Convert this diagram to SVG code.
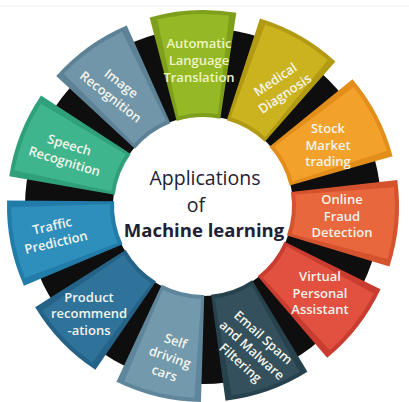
<svg xmlns="http://www.w3.org/2000/svg" xmlns:xlink="http://www.w3.org/1999/xlink" width="409" height="402" viewBox="0 0 409 402">
<style>
.lbl{font-family:"Open Sans","Noto Sans","Liberation Sans",sans-serif;font-size:13px;font-weight:600;fill:#f4f4ea;text-anchor:middle}
.ctr{font-family:"Open Sans","Noto Sans","Liberation Sans",sans-serif;fill:#1e2133;text-anchor:middle}
</style>
<defs>
<path id="blk" d="M -43.42 -191.13 A 196 196 0 0 1 43.42 -191.13 L 21.83 -86.28 A 89 89 0 0 0 -21.83 -86.28 Z"/>
<path id="face" d="M -35.98 -188.60 A 192 192 0 0 1 35.98 -188.60 L 19.81 -90.87 A 93 93 0 0 0 -19.81 -90.87 Z"/>
</defs>
<rect width="409" height="402" fill="#ffffff"/>
<line x1="0" y1="6" x2="409" y2="6" stroke="#eeeeee" stroke-width="1"/>
<g id="connectors">
<path d="M 203 28 A 178 178 0 1 1 202.99 28 Z M 203 116 A 90 90 0 1 0 203.01 116 Z" fill="#0e0e0e" fill-rule="evenodd"/>
</g>
<g id="node-auto">
<use xlink:href="#blk" transform="translate(203 206) rotate(-3)" fill="#7f9f1c"/>
<use xlink:href="#face" transform="translate(203 206) rotate(-3)" fill="#95b925"/>
<text class="lbl" style="fill:#eef4c4"><tspan x="199" y="48">Automatic</tspan><tspan x="199" y="65">Language</tspan><tspan x="199" y="82">Translation</tspan></text>
</g>
<g id="node-medical">
<use xlink:href="#blk" transform="translate(203 206) rotate(29.7)" fill="#b29b12"/>
<use xlink:href="#face" transform="translate(203 206) rotate(29.7)" fill="#cbb320"/>
<text class="lbl" transform="translate(280 86.5) rotate(-34)"><tspan x="0" y="-3.8">Medical</tspan><tspan x="0" y="13.2">Diagnosis</tspan></text>
</g>
<g id="node-stock">
<use xlink:href="#blk" transform="translate(203 206) rotate(62.5)" fill="#e38d1a"/>
<use xlink:href="#face" transform="translate(203 206) rotate(62.5)" fill="#f2a22a"/>
<text class="lbl"><tspan x="328" y="133">Stock</tspan><tspan x="328" y="149.5">Market</tspan><tspan x="328" y="166">trading</tspan></text>
</g>
<g id="node-online">
<use xlink:href="#blk" transform="translate(203 206) rotate(95.2)" fill="#d4532e"/>
<use xlink:href="#face" transform="translate(203 206) rotate(95.2)" fill="#e9673d"/>
<text class="lbl"><tspan x="342" y="204">Online</tspan><tspan x="342" y="221">Fraud</tspan><tspan x="342" y="237">Detection</tspan></text>
</g>
<g id="node-virtual">
<use xlink:href="#blk" transform="translate(203 206) rotate(127.9)" fill="#c93c30"/>
<use xlink:href="#face" transform="translate(203 206) rotate(127.9)" fill="#e2503f"/>
<text class="lbl"><tspan x="320" y="281">Virtual</tspan><tspan x="320" y="298">Personal</tspan><tspan x="320" y="314">Assistant</tspan></text>
</g>
<g id="node-email">
<use xlink:href="#blk" transform="translate(203 206) rotate(160.6)" fill="#28424d"/>
<use xlink:href="#face" transform="translate(203 206) rotate(160.6)" fill="#33505c"/>
<text class="lbl" transform="translate(252 350) rotate(42)"><tspan x="0" y="-12.3">Email Spam</tspan><tspan x="0" y="4.7">and Malware</tspan><tspan x="0" y="21.7">Filtering</tspan></text>
</g>
<g id="node-self">
<use xlink:href="#blk" transform="translate(203 206) rotate(193.4)" fill="#5f869b"/>
<use xlink:href="#face" transform="translate(203 206) rotate(193.4)" fill="#7399ad"/>
<text class="lbl" transform="translate(170 357) rotate(19)"><tspan x="0" y="-12.3">Self</tspan><tspan x="0" y="4.7">driving</tspan><tspan x="0" y="21.7">cars</tspan></text>
</g>
<g id="node-product">
<use xlink:href="#blk" transform="translate(203 206) rotate(226.1)" fill="#256287"/>
<use xlink:href="#face" transform="translate(203 206) rotate(226.1)" fill="#2f729a"/>
<text class="lbl"><tspan x="89" y="302">Product</tspan><tspan x="89" y="318">recommend</tspan><tspan x="89" y="335">-ations</tspan></text>
</g>
<g id="node-traffic">
<use xlink:href="#blk" transform="translate(203 206) rotate(258.8)" fill="#227ca9"/>
<use xlink:href="#face" transform="translate(203 206) rotate(258.8)" fill="#2e8fbd"/>
<text class="lbl" transform="translate(54 234) rotate(-13)"><tspan x="0" y="-3.8">Traffic</tspan><tspan x="0" y="13.2">Prediction</tspan></text>
</g>
<g id="node-speech">
<use xlink:href="#blk" transform="translate(203 206) rotate(291.5)" fill="#30a07b"/>
<use xlink:href="#face" transform="translate(203 206) rotate(291.5)" fill="#3fb58e"/>
<text class="lbl" transform="translate(67 153) rotate(17)"><tspan x="0" y="-3.8">Speech</tspan><tspan x="0" y="13.2">Recognition</tspan></text>
</g>
<g id="node-image">
<use xlink:href="#blk" transform="translate(203 206) rotate(324.3)" fill="#5d8296"/>
<use xlink:href="#face" transform="translate(203 206) rotate(324.3)" fill="#7195a9"/>
<text class="lbl" transform="translate(116 90) rotate(38)"><tspan x="0" y="-3.8">Image</tspan><tspan x="0" y="13.2">Recognition</tspan></text>
</g>
<g id="node-center">
<text class="ctr" x="205" y="185" font-size="19.5">Applications</text>
<text class="ctr" x="196" y="212" font-size="19.5">of</text>
<text class="ctr" x="204" y="237" font-size="18.5" font-weight="700">Machine learning</text>
</g>
</svg>
